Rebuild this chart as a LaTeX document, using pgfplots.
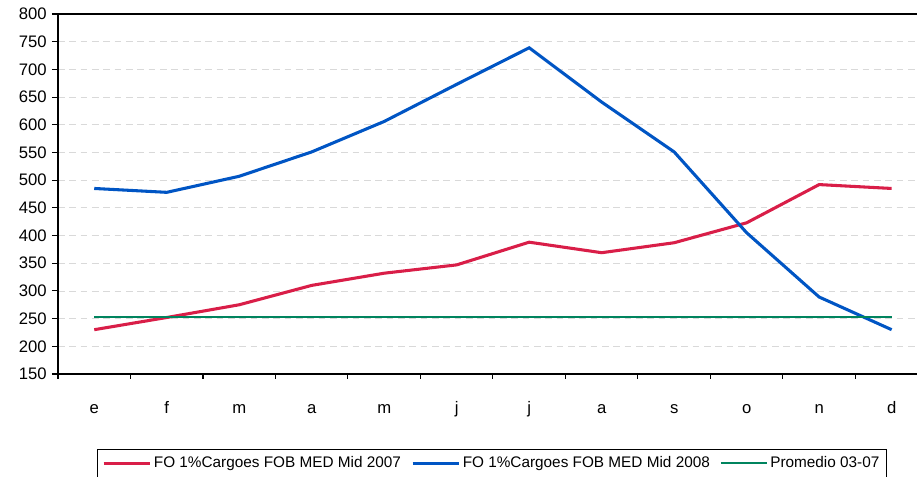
\documentclass[border=0pt]{standalone}
\usepackage{fontspec}
\setmainfont{Liberation Sans}
\usepackage{pgfplots}
\pgfplotsset{compat=1.18}
\definecolor{rojo}{HTML}{D91E48}
\definecolor{azul}{HTML}{0055C4}
\definecolor{verde}{HTML}{00845E}

\begin{document}
\begin{tikzpicture}
\begin{axis}[
  name=ax,
  scale only axis,
  width=644.25pt, height=270pt,
  xmin=-0.5, xmax=11.35,
  ymin=150, ymax=800,
  ytick={150,200,...,800},
  xtick={0,...,11},
  xticklabels={e,f,m,a,m,j,j,a,s,o,n,d},
  minor xtick={-0.5,0.5,...,10.5},
  axis lines*=left,
  axis line style={line width=1.2pt},
  tick align=outside,
  major tick length=4.5pt,
  minor tick length=3.75pt,
  x tick style={draw=none},
  minor x tick style={draw=black,line width=0.8pt},
  y tick style={draw=black,line width=0.8pt},
  ymajorgrids=true,
  major grid style={dashed,dash pattern=on 5pt off 3.5pt,gray!30,line width=0.6pt},
  tick label style={font=\fontsize{12.5}{13}\selectfont},
  /pgf/number format/assume math mode=true,
  yticklabel style={xshift=-0.5pt},
  xticklabel style={anchor=base, yshift=-25.5pt},
  legend style={
    at={(0.505,-0.208)}, anchor=north,
    legend columns=3,
    draw=black, line width=0.6pt,
    font=\fontsize{11.5}{12}\selectfont,
    inner xsep=3.5pt, inner ysep=3.5pt,
    nodes={inner xsep=1.5pt, inner ysep=2pt},
    /tikz/every even column/.append style={column sep=6pt},
  },
  legend image code/.code={\draw[#1] (0pt,0pt) -- (35pt,0pt);},
]
\addplot[draw=rojo, line width=2.3pt] coordinates {
  (0,230)(1,252)(2,275)(3,310)(4,332)(5,347)(6,388)(7,369)(8,387)(9,423)(10,492)(11,485)
};
\addplot[draw=azul, line width=2.3pt] coordinates {
  (0,485)(1,478)(2,507)(3,551)(4,606)(5,673)(6,739)(7,641)(8,551)(9,405)(10,289)(11,230)
};
\addplot[draw=verde, line width=1.3pt] coordinates {
  (0,253)(1,253)(2,253)(3,253)(4,253)(5,253)(6,253)(7,253)(8,253)(9,253)(10,253)(11,253)
};
\legend{FO 1\%Cargoes FOB MED Mid 2007, FO 1\%Cargoes FOB MED Mid 2008, Promedio 03-07}
\end{axis}
\draw[line width=1.2pt] (ax.north west) -- (ax.north east);
\pgfresetboundingbox
\path[use as bounding box] ([shift={(-43.5pt,-77.25pt)}]ax.south west) rectangle ([shift={(0pt,10.5pt)}]ax.north east);
\end{tikzpicture}
\end{document}
